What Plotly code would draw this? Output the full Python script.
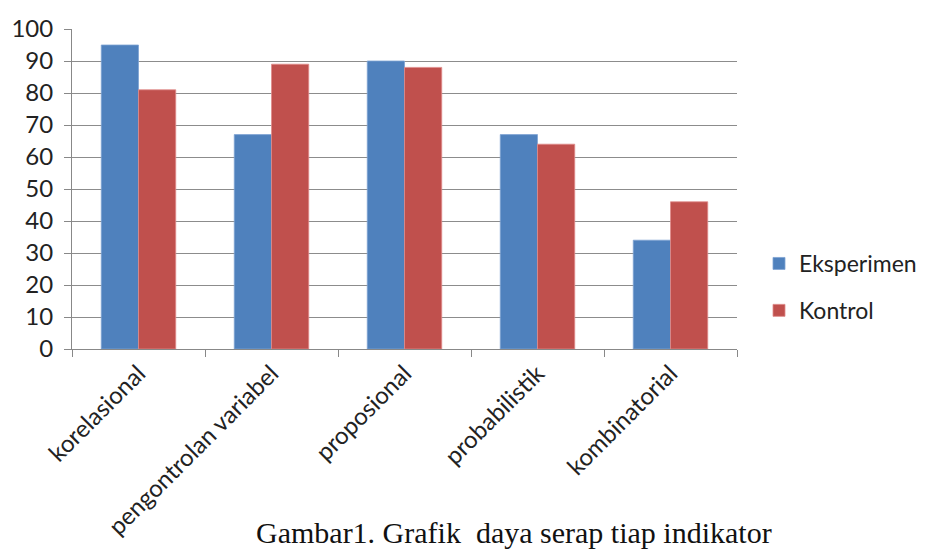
import plotly.graph_objects as go

categories = ["korelasional", "pengontrolan variabel", "proposional", "probabilistik", "kombinatorial"]
eksperimen = [95, 67, 90, 67, 34]
kontrol = [81, 89, 88, 64, 46]
y_ticks = [0, 10, 20, 30, 40, 50, 60, 70, 80, 90, 100]

fig = go.Figure()
fig.add_trace(go.Bar(x=categories, y=eksperimen, name="Eksperimen", legendgroup="a",
                     marker=dict(color="#4F81BD", line=dict(color="#7FA3D3", width=0.8))))
fig.add_trace(go.Bar(x=categories, y=kontrol, name="Kontrol", legendgroup="b",
                     marker=dict(color="#C0504D", line=dict(color="#E08C8A", width=0.8))))

OFF = 8  # page body margin
L, R, T, B = 72 - OFF, 737 - OFF, 29 - OFF, 349 - OFF
W, H = 927 - OFF, 552 - OFF
fig.update_layout(
    width=W, height=H,
    margin=dict(l=L, r=W - R, t=T, b=H - B, autoexpand=False),
    paper_bgcolor="white", plot_bgcolor="white",
    barmode="group", bargap=0.44, bargroupgap=0,
    font=dict(family="Lato, Open Sans, sans-serif", color="#222222"),
    showlegend=True,
    legend=dict(x=(759 - OFF - L) / (R - L), y=(B - (242 - OFF)) / (B - T), xanchor="left", yanchor="top",
                font=dict(size=23, family="Lato, Open Sans, sans-serif", color="#222222"),
                tracegroupgap=14, traceorder="grouped", itemwidth=30,
                bgcolor="rgba(0,0,0,0)"),
    xaxis=dict(
        type="category", tickson="boundaries", ticks="outside", ticklen=7,
        tickcolor="#888888", showline=True, linecolor="#888888", linewidth=1,
        tickangle=-45, tickfont=dict(size=24, color="#222222"),
        showgrid=False, automargin=False,
    ),
    yaxis=dict(
        range=[0, 100], tickvals=y_ticks, ticks="outside", ticklen=7,
        tickcolor="#888888", showline=True, linecolor="#888888", linewidth=1,
        gridcolor="#8C8C8C", gridwidth=1, showgrid=True, zeroline=False,
        tickfont=dict(size=24, color="#222222"), ticklabelstandoff=6,
        automargin=False,
    ),
    annotations=[dict(
        text="Gambar1. Grafik  daya serap tiap indikator", xref="paper", yref="paper",
        x=(514 - OFF - L) / (R - L), y=(B - (532 - OFF)) / (B - T), xanchor="center", yanchor="middle",
        showarrow=False, font=dict(family="Liberation Serif, Times New Roman, serif", size=30, color="#111111"),
    )],
)
fig.write_html("out.html")
